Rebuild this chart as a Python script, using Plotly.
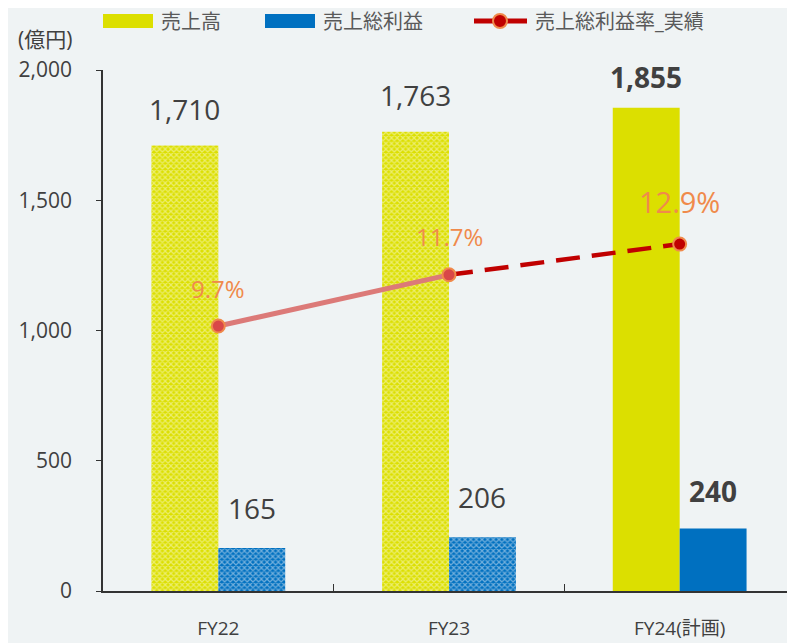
import plotly.graph_objects as go

categories = ["FY22", "FY23", "FY24(計画)"]
sales = [1710, 1763, 1855]
gross_profit = [165, 206, 240]
margin_pct = [9.7, 11.7, 12.9]
sales_labels = ["1,710", "1,763", "<b>1,855</b>"]
gp_labels = ["165", "206", "<b>240</b>"]
pct_labels = ["9.7%", "11.7%", "12.9%"]
legend_names = ["売上高", "売上総利益", "売上総利益率_実績"]

YELLOW = "#DCDF00"
BLUE = "#0070C0"
BG = "#EFF3F4"
TXT = "#404040"
ORANGE = "#F08A4B"
LEG_TXT = "#595959"

FONT = "Open Sans, Noto Sans CJK JP, sans-serif"

# page is offset by the 8px body margin; figure sized to fill the window
W, H = 787, 635
L, T, B, R = 95, 62, 52, 0
PW = W - L - R
PH = H - T - B


def px(xp):  # page x -> paper
    return (xp - 8 - L) / PW


def py(yp):  # page y -> paper
    return (H - B - (yp - 8)) / PH


fig = go.Figure()

fig.add_trace(go.Bar(
    x=categories, y=sales, name=legend_names[0], offsetgroup="a", showlegend=False,
    marker=dict(color=YELLOW, line=dict(width=0),
                pattern=dict(shape=["x", "x", ""], fgcolor="#FBFCE0",
                             bgcolor=YELLOW, size=4, solidity=0.5)),
))
fig.add_trace(go.Bar(
    x=categories, y=gross_profit, name=legend_names[1], offsetgroup="b", showlegend=False,
    marker=dict(color=BLUE, line=dict(width=0),
                pattern=dict(shape=["x", "x", ""], fgcolor="#E3EEF8",
                             bgcolor=BLUE, size=4, solidity=0.5)),
))

fig.add_trace(go.Scatter(
    x=categories[:2], y=margin_pct[:2], yaxis="y2", mode="lines",
    line=dict(color="#DC7A78", width=5), showlegend=False, hoverinfo="skip",
))
fig.add_trace(go.Scatter(
    x=categories[1:], y=margin_pct[1:], yaxis="y2", mode="lines",
    line=dict(color="#C00000", width=4.5, dash="24px,12px"), showlegend=False, hoverinfo="skip",
))
fig.add_trace(go.Scatter(
    x=categories, y=margin_pct, yaxis="y2", mode="markers", name=legend_names[2],
    marker=dict(size=13, color=["#D94848", "#D94848", "#C00000"],
                line=dict(color=ORANGE, width=2)),
    showlegend=False,
))

annotations = []
bar_shift = PW / 3 * (1 - 0.42) / 4
for i, c in enumerate(categories):
    bold = i == 2
    annotations.append(dict(x=c, y=sales[i], xref="x", yref="y", text=sales_labels[i],
                            xshift=-bar_shift, yshift=31 if bold else 37, showarrow=False,
                            font=dict(size=28, color=TXT, family=FONT)))
    annotations.append(dict(x=c, y=gross_profit[i], xref="x", yref="y", text=gp_labels[i],
                            xshift=bar_shift, yshift=37 if bold else 40, showarrow=False,
                            font=dict(size=28, color=TXT, family=FONT)))
    annotations.append(dict(x=c, y=margin_pct[i], xref="x", yref="y2", text=pct_labels[i],
                            yshift=43 if bold else 38, showarrow=False,
                            font=dict(size=29 if bold else 24, color=ORANGE, family=FONT)))

annotations.append(dict(x=px(45), y=py(39), xref="paper", yref="paper", text="(億円)",
                        xanchor="center", yanchor="middle", showarrow=False,
                        font=dict(size=21, color=TXT, family=FONT)))

# custom legend
shapes = []
leg_y = 21
shapes.append(dict(type="rect", xref="paper", yref="paper", x0=px(103), x1=px(153),
                   y0=py(28), y1=py(14), fillcolor=YELLOW, line=dict(width=0)))
shapes.append(dict(type="rect", xref="paper", yref="paper", x0=px(265), x1=px(315),
                   y0=py(28), y1=py(14), fillcolor=BLUE, line=dict(width=0)))
shapes.append(dict(type="line", xref="paper", yref="paper", x0=px(474), x1=px(527),
                   y0=py(leg_y), y1=py(leg_y), line=dict(color="#C00000", width=5)))
shapes.append(dict(type="circle", xref="paper", yref="paper", x0=px(493), x1=px(507),
                   y0=py(28), y1=py(14), fillcolor="#C00000",
                   line=dict(color=ORANGE, width=2)))
for xpos, name in zip([159, 321, 533], legend_names):
    annotations.append(dict(x=px(xpos), y=py(leg_y), xref="paper", yref="paper", text=name,
                            xanchor="left", yanchor="middle", showarrow=False,
                            font=dict(size=20, color=LEG_TXT, family=FONT)))

fig.update_layout(
    width=W, height=H,
    paper_bgcolor=BG, plot_bgcolor=BG,
    margin=dict(l=L, r=R, t=T, b=B),
    barmode="group", bargap=0.42, bargroupgap=0,
    font=dict(family=FONT, color=TXT),
    showlegend=False,
    xaxis=dict(showline=True, linecolor="#333333", linewidth=2, ticks="inside",
               tickson="boundaries", ticklen=7, tickcolor="#333333",
               tickfont=dict(size=19, color=TXT), showgrid=False, ticklabelstandoff=19),
    yaxis=dict(range=[0, 2000], tickvals=[0, 500, 1000, 1500, 2000], tickformat=",",
               showline=True, linecolor="#333333", linewidth=1.5, ticks="outside",
               ticklen=5, tickcolor="#333333", showgrid=False, zeroline=False,
               tickfont=dict(size=21, color=TXT), ticklabelstandoff=20),
    yaxis2=dict(range=[-0.65, 19.7], overlaying="y", side="right", visible=False),
    annotations=annotations,
    shapes=shapes,
)

fig.write_html("out.html")
